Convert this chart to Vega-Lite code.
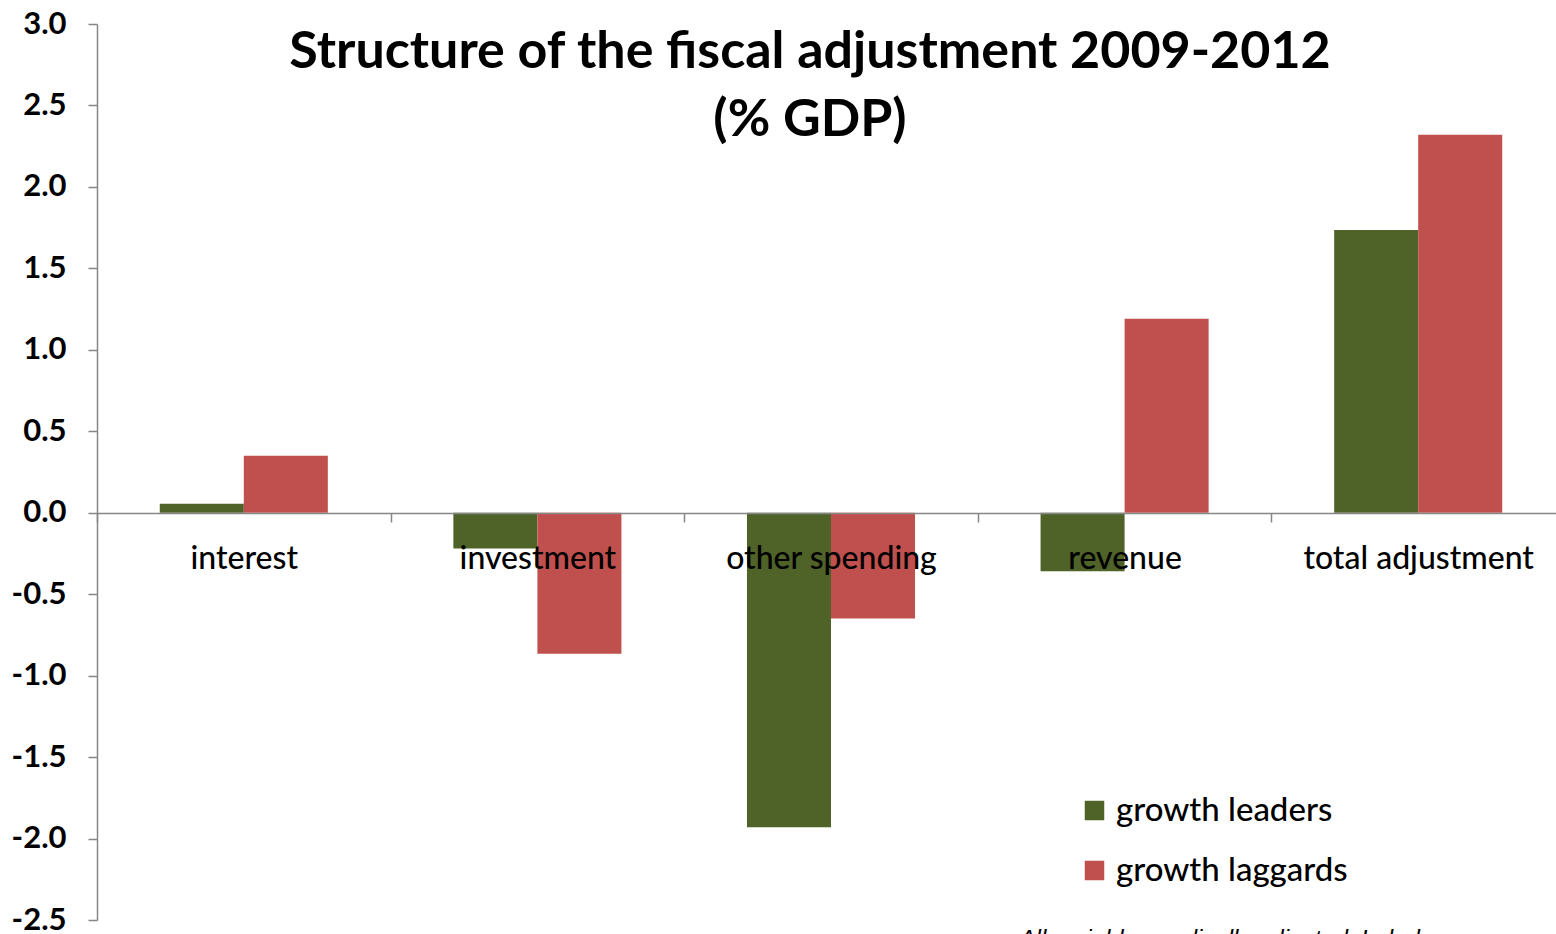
{
  "$schema": "https://vega.github.io/schema/vega-lite/v6.json",
  "autosize": {"type": "none"},
  "padding": {"left": 97, "top": 24, "right": 0, "bottom": 14},
  "width": 1468,
  "height": 896,
  "background": "white",
  "title": {
    "text": ["Structure of the fiscal adjustment 2009-2012", "(% GDP)"],
    "font": "Lato",
    "fontSize": 52,
    "fontWeight": "bold",
    "color": "#000000",
    "anchor": "middle",
    "frame": "group",
    "lineHeight": 68,
    "offset": -139,
    "dx": -21
  },
  "config": {
    "view": {"stroke": null},
    "font": "Lato"
  },
  "data": {
    "values": [
      {"category": "interest", "group": "growth leaders", "value": 0.055},
      {"category": "interest", "group": "growth laggards", "value": 0.35},
      {"category": "investment", "group": "growth leaders", "value": -0.22},
      {"category": "investment", "group": "growth laggards", "value": -0.865},
      {"category": "other spending", "group": "growth leaders", "value": -1.93},
      {"category": "other spending", "group": "growth laggards", "value": -0.65},
      {"category": "revenue", "group": "growth leaders", "value": -0.36},
      {"category": "revenue", "group": "growth laggards", "value": 1.19},
      {"category": "total adjustment", "group": "growth leaders", "value": 1.735},
      {"category": "total adjustment", "group": "growth laggards", "value": 2.32}
    ]
  },
  "layer": [
    {
      "mark": {"type": "bar"},
      "encoding": {
        "x": {
          "field": "category",
          "type": "nominal",
          "sort": null,
          "scale": {"paddingInner": 0, "paddingOuter": 0},
          "axis": {
            "title": null,
            "orient": "bottom",
            "offset": -407,
            "zindex": 1,
            "domainColor": "#868686",
            "domainWidth": 1.5,
            "tickColor": "#868686",
            "tickWidth": 1.5,
            "tickSize": 9,
            "tickBand": "extent",
            "labelAngle": 0,
            "labelLimit": 0,
            "labelFont": "Lato",
            "labelFontSize": 32,
            "labelFontWeight": 500,
            "labelColor": "#000000",
            "labelPadding": 21,
            "labelBaseline": "top"
          }
        },
        "xOffset": {
          "field": "group",
          "type": "nominal",
          "sort": ["growth leaders", "growth laggards"],
          "scale": {"paddingInner": 0, "paddingOuter": 0.747}
        },
        "y": {
          "field": "value",
          "type": "quantitative",
          "scale": {"domain": [-2.5, 3.0], "nice": false, "zero": false},
          "axis": {
            "title": null,
            "values": [-2.5, -2.0, -1.5, -1.0, -0.5, 0.0, 0.5, 1.0, 1.5, 2.0, 2.5, 3.0],
            "labelExpr": "replace(format(datum.value, '.1f'), '\u2212', '-')",
            "grid": false,
            "domainColor": "#868686",
            "domainWidth": 1.5,
            "tickColor": "#868686",
            "tickWidth": 1.5,
            "tickSize": 9,
            "labelFont": "Lato",
            "labelFontSize": 31,
            "labelFontWeight": "bold",
            "labelColor": "#000000",
            "labelPadding": 22
          }
        },
        "color": {
          "field": "group",
          "type": "nominal",
          "sort": ["growth leaders", "growth laggards"],
          "scale": {"domain": ["growth leaders", "growth laggards"], "range": ["#4F6228", "#C0504D"]},
          "legend": {
            "title": null,
            "orient": "none",
            "legendX": 981,
            "legendY": 770,
            "symbolType": "square",
            "symbolSize": 380,
            "symbolStrokeWidth": 0,
            "labelLimit": 0,
            "labelFont": "Lato",
            "labelFontSize": 33,
            "labelFontWeight": 500,
            "labelColor": "#000000",
            "labelOffset": 5,
            "rowPadding": 26
          }
        }
      }
    },
    {
      "data": {"values": [{"note": "All variables cyclically adjusted. Labels", "category": "revenue", "y": -2.5}]},
      "mark": {"type": "text", "align": "left", "baseline": "top", "font": "Liberation Sans", "fontStyle": "italic", "fontSize": 24, "dx": -105, "dy": 8, "color": "#000000"},
      "encoding": {
        "x": {"field": "category", "type": "nominal"},
        "y": {"field": "y", "type": "quantitative"},
        "text": {"field": "note"}
      }
    }
  ]
}
